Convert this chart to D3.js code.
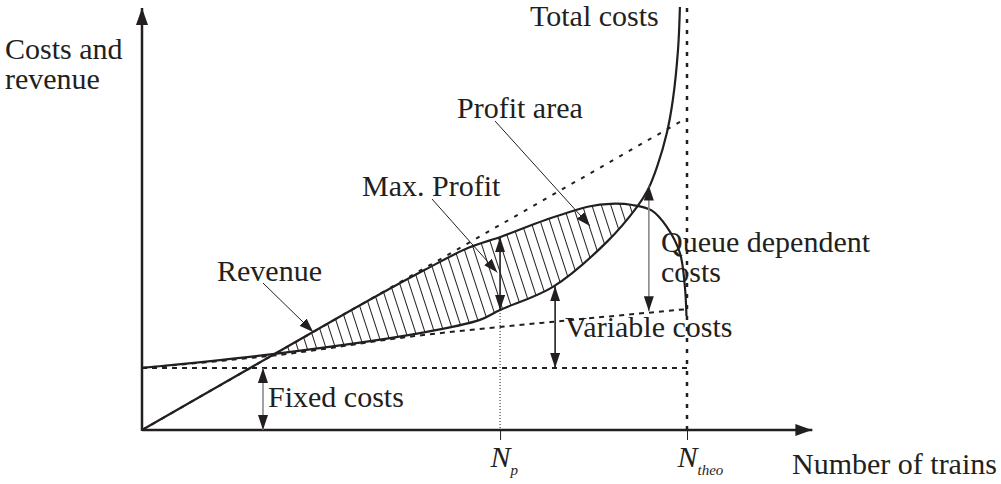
<!DOCTYPE html>
<html>
<head>
<meta charset="utf-8">
<script src="https://cdn.jsdelivr.net/npm/d3@7"></script>
<style>
  html, body { margin: 0; padding: 0; background: #fff; }
  text { font-family: "Liberation Serif", "Times New Roman", serif; fill: #231f20; }
</style>
</head>
<body>
<div id="chart"></div>
<script>
// number of trains (x, N_theo = 100) and costs / revenue (y)
var fixedCost = 20.7;
var varX = [0, 25, 50, 75, 100];
var varY = [20.7, 25.0, 31.3, 36.0, 40.3];
var totalX = [0, 24, 51, 62, 65.7, 75.4, 85.3, 90.8, 92.8, 94.5, 96.3, 97.4, 98.35, 98.7];
var totalY = [20.7, 25.3, 32.3, 36.7, 40, 47.7, 62.7, 74.3, 80, 87.7, 99, 110, 126.7, 141];
var revX = [0, 24, 40, 52, 60, 66, 74, 82, 86, 90, 93.5, 96.3, 98.7, 99.6, 99.9];
var revY = [0, 25, 41.6, 53.5, 60.8, 64.5, 70, 74.5, 75.4, 75, 73.2, 67.7, 59, 48, 38];
var potX = [0, 98.7];
var potY = [0, 102.7];
var Np = 65.7, Ntheo = 100;
var tickValues = [Np, Ntheo];
var tickMain = ["N", "N"];
var tickSub = ["p", "theo"];
var xMax = 123, yMax = 140.7;

var width = 1001, height = 484;
var ink = "#231f20";
var fontSize = "30px";

var x = d3.scaleLinear().domain([0, 100]).range([142, 687]);
var y = d3.scaleLinear().domain([0, 100]).range([430, 130]);

var svg = d3.select("#chart").append("svg")
  .attr("width", width)
  .attr("height", height);

var defs = svg.append("defs");

function marker(id, len, wid) {
  defs.append("marker")
    .attr("id", id)
    .attr("markerUnits", "userSpaceOnUse")
    .attr("viewBox", "0 0 " + len + " " + wid)
    .attr("refX", len)
    .attr("refY", wid / 2)
    .attr("markerWidth", len)
    .attr("markerHeight", wid)
    .attr("orient", "auto-start-reverse")
    .append("path")
    .attr("d", "M0,0L" + len + "," + (wid / 2) + "L0," + wid + "Z")
    .attr("fill", ink);
}
marker("axisHead", 17, 12);
marker("head", 15, 10);
marker("smallHead", 14, 10);

var pattern = defs.append("pattern")
  .attr("id", "hatch")
  .attr("patternUnits", "userSpaceOnUse")
  .attr("width", 9)
  .attr("height", 10)
  .attr("patternTransform", "rotate(-18)");
pattern.append("line")
  .attr("x1", 4.5).attr("y1", 0).attr("x2", 4.5).attr("y2", 10)
  .attr("stroke", ink).attr("stroke-width", 1);

var pts = function (xs, ys) { return xs.map(function (d, i) { return [d, ys[i]]; }); };
var totalPts = pts(totalX, totalY);
var revPts = pts(revX, revY);
var varPts = pts(varX, varY);

var line = d3.line()
  .x(function (d) { return x(d[0]); })
  .y(function (d) { return y(d[1]); })
  .curve(d3.curveCatmullRom.alpha(0.5));

var straight = d3.line()
  .x(function (d) { return x(d[0]); })
  .y(function (d) { return y(d[1]); });

// profit area = below revenue and above total costs
defs.append("clipPath").attr("id", "belowRev")
  .append("path")
  .attr("d", line(revPts) + "L" + x(revX[revX.length - 1]) + "," + y(0) + "Z");
defs.append("clipPath").attr("id", "aboveCost")
  .append("path")
  .attr("d", line(totalPts) + "L" + x(0) + "," + y(totalY[totalY.length - 1]) + "Z");

svg.append("g").attr("clip-path", "url(#belowRev)")
  .append("g").attr("clip-path", "url(#aboveCost)")
  .append("rect")
  .attr("x", x(0)).attr("y", y(yMax))
  .attr("width", x(100) - x(0)).attr("height", y(0) - y(yMax))
  .attr("fill", "url(#hatch)");

// dashed guide lines
svg.append("line")
  .attr("x1", x(0)).attr("x2", x(Ntheo))
  .attr("y1", y(fixedCost)).attr("y2", y(fixedCost))
  .attr("stroke", ink).attr("stroke-width", 2).attr("stroke-dasharray", "5,5");

svg.append("path")
  .attr("d", line(varPts))
  .attr("fill", "none").attr("stroke", ink).attr("stroke-width", 2).attr("stroke-dasharray", "5,5");

svg.append("path")
  .attr("d", straight(pts(potX, potY)))
  .attr("fill", "none").attr("stroke", ink).attr("stroke-width", 2).attr("stroke-dasharray", "4,7");

svg.append("line")
  .attr("x1", x(Ntheo)).attr("x2", x(Ntheo))
  .attr("y1", y(yMax)).attr("y2", y(0))
  .attr("stroke", ink).attr("stroke-width", 2.5).attr("stroke-dasharray", "4,7");

svg.append("line")
  .attr("x1", x(Np)).attr("x2", x(Np))
  .attr("y1", y(40)).attr("y2", y(0))
  .attr("stroke", ink).attr("stroke-width", 1).attr("stroke-dasharray", "1,2");

// curves
svg.append("path")
  .attr("d", line(totalPts))
  .attr("fill", "none").attr("stroke", ink).attr("stroke-width", 2.2);
svg.append("path")
  .attr("d", line(revPts))
  .attr("fill", "none").attr("stroke", ink).attr("stroke-width", 2.2);

// axes
svg.append("line")
  .attr("x1", x(0)).attr("x2", x(xMax))
  .attr("y1", y(0)).attr("y2", y(0))
  .attr("stroke", ink).attr("stroke-width", 2.5)
  .attr("marker-end", "url(#axisHead)");
svg.append("line")
  .attr("x1", x(0)).attr("x2", x(0))
  .attr("y1", y(0) + 1).attr("y2", y(yMax))
  .attr("stroke", ink).attr("stroke-width", 2.5)
  .attr("marker-end", "url(#axisHead)");

var xAxis = svg.append("g")
  .attr("transform", "translate(0," + y(0) + ")")
  .call(d3.axisBottom(x).tickValues(tickValues).tickSize(10).tickFormat(""));
xAxis.select(".domain").remove();
xAxis.selectAll(".tick line").attr("stroke", ink).attr("stroke-width", 1);

var tickLabel = xAxis.selectAll(".tick text")
  .attr("y", 37)
  .attr("dy", null)
  .attr("x", -10)
  .attr("text-anchor", "start")
  .style("font-size", fontSize)
  .style("font-style", "italic")
  .style("fill", ink);
tickLabel.each(function (d, i) {
  var t = d3.select(this);
  t.append("tspan").text(tickMain[i]);
  t.append("tspan").text(tickSub[i])
    .attr("dy", 8)
    .style("font-size", "15px");
});

// measurement arrows (x in trains, y from / to in cost units)
var arrows = [
  { x: Np, y0: 64.3, y1: 40, color: ink },
  { x: 93, y0: 81.5, y1: 39.6, color: "#8a8a8a" },
  { x: 75.8, y0: 47.9, y1: fixedCost, color: ink },
  { x: 22.2, y0: fixedCost, y1: 0, color: "#8a8a8a" }
];
svg.selectAll(".dim")
  .data(arrows)
  .enter().append("line")
  .attr("class", "dim")
  .attr("x1", function (d) { return x(d.x); })
  .attr("x2", function (d) { return x(d.x); })
  .attr("y1", function (d) { return y(d.y0); })
  .attr("y2", function (d) { return y(d.y1); })
  .attr("stroke", function (d) { return d.color; })
  .attr("stroke-width", 1.6)
  .attr("marker-start", "url(#head)")
  .attr("marker-end", "url(#head)");

// pointer lines from labels to the chart
var pointers = [
  { from: [263, 283], to: [31.4, 32.7] },
  { from: [432, 199], to: [65.2, 52.5] },
  { from: [495, 121], to: [82.2, 68] }
];
svg.selectAll(".ptr")
  .data(pointers)
  .enter().append("line")
  .attr("class", "ptr")
  .attr("x1", function (d) { return d.from[0]; })
  .attr("y1", function (d) { return d.from[1]; })
  .attr("x2", function (d) { return x(d.to[0]); })
  .attr("y2", function (d) { return y(d.to[1]); })
  .attr("stroke", ink)
  .attr("stroke-width", 1)
  .attr("marker-end", "url(#smallHead)");

// labels
var labels = [
  { text: "Costs and", x: 5, y: 59 },
  { text: "revenue", x: 5, y: 89 },
  { text: "Total costs", x: 530, y: 26 },
  { text: "Profit area", x: 457, y: 118 },
  { text: "Max. Profit", x: 362, y: 196 },
  { text: "Revenue", x: 217, y: 281 },
  { text: "Queue dependent", x: 661, y: 252 },
  { text: "costs", x: 661, y: 282 },
  { text: "Variable costs", x: 565, y: 337 },
  { text: "Fixed costs", x: 268, y: 407 },
  { text: "Number of trains", x: 792, y: 474 }
];
svg.selectAll(".lbl")
  .data(labels)
  .enter().append("text")
  .attr("class", "lbl")
  .attr("x", function (d) { return d.x; })
  .attr("y", function (d) { return d.y; })
  .style("font-size", fontSize)
  .text(function (d) { return d.text; });
</script>
</body>
</html>
